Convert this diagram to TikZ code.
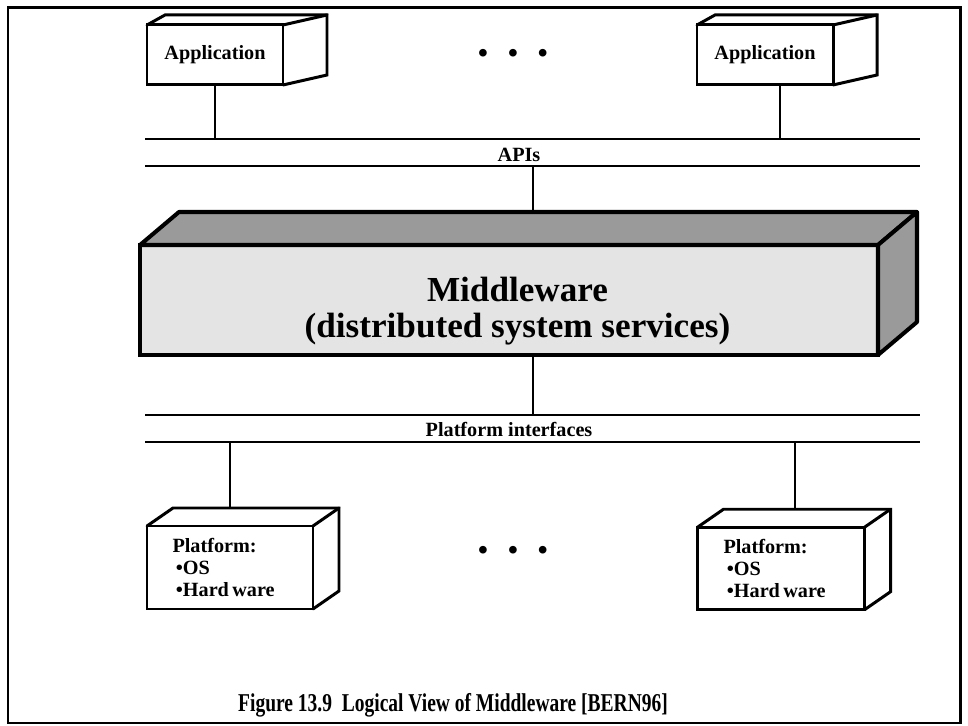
\documentclass[tikz,border=0pt]{standalone}
\usepackage{fontspec}
\setmainfont{Liberation Serif}
\newfontfamily\capfont[FakeStretch=0.76]{Liberation Serif}
\usetikzlibrary{calc}

\definecolor{mwfront}{HTML}{E4E4E4}
\definecolor{mwside}{HTML}{9A9A9A}

\begin{document}
\begin{tikzpicture}[line cap=round,
    frontface/.style={draw, line width=1.7pt, fill=white, outer sep=0pt, inner sep=0pt,
        font=\fontsize{11.5}{12.5}\selectfont\bfseries},
    boxedge/.style={line width=1.7pt},
    mwface/.style={draw, fill=mwside, line width=2.3pt, line join=round},
    bus/.style={line width=1.5pt, line cap=butt},
    stem/.style={line width=1.4pt, line cap=butt},
    small/.style={font=\fontsize{11.5}{13}\selectfont\bfseries},
    dots/.style={font=\fontsize{16}{16}\selectfont\bfseries},
    ]

    \useasboundingbox (0, 0) rectangle (19.36, 14.52);
    \draw[line width=1.7pt] (0.16, 0.06) rectangle (19.2, 14.36);

    \node[frontface, minimum width=2.72cm, minimum height=1.2cm] (app1) at (4.30, 13.42) {Application};
    \node[frontface, minimum width=2.72cm, minimum height=1.2cm] (app2) at (15.3, 13.42) {Application};
    \node[dots] (dotsTop) at (10.26, 13.4) {•\hskip0.4cm•\hskip0.4cm•};
    \foreach \b in {app1, app2} {
        \draw[boxedge] (\b.north west) -- ++(0.36, 0.2) -- ($(\b.north east)+(0.88, 0.2)$)
            -- ($(\b.south east)+(0.88, 0.2)$) -- (\b.south east);
        \draw[boxedge] (\b.north east) -- ++(0.88, 0.2);
    }

    \coordinate (apiTL) at (2.9, 11.74);
    \coordinate (apiTR) at (18.4, 11.74);
    \coordinate (apiBL) at (2.9, 11.2);
    \coordinate (apiBR) at (18.4, 11.2);
    \draw[bus] (apiTL) -- (apiTR);
    \draw[bus] (apiBL) -- (apiBR);
    \node[small, anchor=base] (apis) at (10.38, 11.28) {APIs};

    \coordinate (appStem2) at (15.6, 11.74);
    \draw[stem] (app1.south) -- (app1.south |- apiTL);
    \draw[stem] (app2.south -| appStem2) -- (appStem2);

    \node[draw, line width=2.3pt, fill=mwfront, outer sep=0pt, minimum width=14.76cm, minimum height=2.2cm] (mw) at (10.18, 8.52) {};
    \draw[mwface] (mw.north west) -- ++(0.78, 0.66) -- ($(mw.north east)+(0.78, 0.66)$) -- (mw.north east) -- cycle;
    \draw[mwface] (mw.north east) -- ++(0.78, 0.66) -- ($(mw.south east)+(0.78, 0.66)$) -- (mw.south east) -- cycle;
    \node[font=\fontsize{20}{22}\selectfont\bfseries, anchor=base] (mwTitle) at (10.35, 8.48) {Middleware};
    \node[font=\fontsize{20}{22}\selectfont\bfseries, anchor=base] (mwSub) at (10.35, 7.76) {(distributed system services)};

    \coordinate (mwBack) at ($(mw.north)+(0, 0.66)$);
    \coordinate (mwStemTop) at (10.66, 11.2);
    \coordinate (mwStemBot) at (10.66, 6.22);
    \draw[stem] (mwStemTop) -- (mwStemTop |- mwBack);
    \draw[stem] (mw.south -| mwStemBot) -- (mwStemBot);

    \coordinate (pfTL) at (2.9, 6.22);
    \coordinate (pfTR) at (18.4, 6.22);
    \coordinate (pfBL) at (2.9, 5.68);
    \coordinate (pfBR) at (18.4, 5.68);
    \draw[bus] (pfTL) -- (pfTR);
    \draw[bus] (pfBL) -- (pfBR);
    \node[small, anchor=base] (pfif) at (10.18, 5.78) {Platform interfaces};

    \node[frontface, align=left, text width=2.3cm, minimum width=3.32cm, minimum height=1.66cm] (plat1) at (4.6, 3.17) {Platform:\\ \,•OS\\ \,•Hard\,ware};
    \node[frontface, align=left, text width=2.3cm, minimum width=3.34cm, minimum height=1.65cm] (plat2) at (15.62, 3.15) {Platform:\\ \,•OS\\ \,•Hard\,ware};
    \node[dots] (dotsBot) at (10.26, 3.46) {•\hskip0.4cm•\hskip0.4cm•};
    \foreach \b in {plat1, plat2} {
        \draw[boxedge] (\b.north west) -- ++(0.52, 0.36) -- ($(\b.north east)+(0.52, 0.36)$)
            -- ($(\b.south east)+(0.52, 0.36)$) -- (\b.south east);
        \draw[boxedge] (\b.north east) -- ++(0.52, 0.36);
    }

    \coordinate (plat2Top) at ($(plat2.north)+(0, 0.36)$);
    \coordinate (pfStem2) at (15.9, 5.68);
    \draw[stem] (pfBL -| plat1.north) -- ($(plat1.north)+(0, 0.36)$);
    \draw[stem] (pfStem2) -- (pfStem2 |- plat2Top);

    \node[anchor=base west, font=\capfont\fontsize{14.6}{16}\bfseries\selectfont] (caption) at (4.64, 0.28)
        {Figure 13.9\ \ Logical View of Middleware [BERN96]};

\end{tikzpicture}
\end{document}
